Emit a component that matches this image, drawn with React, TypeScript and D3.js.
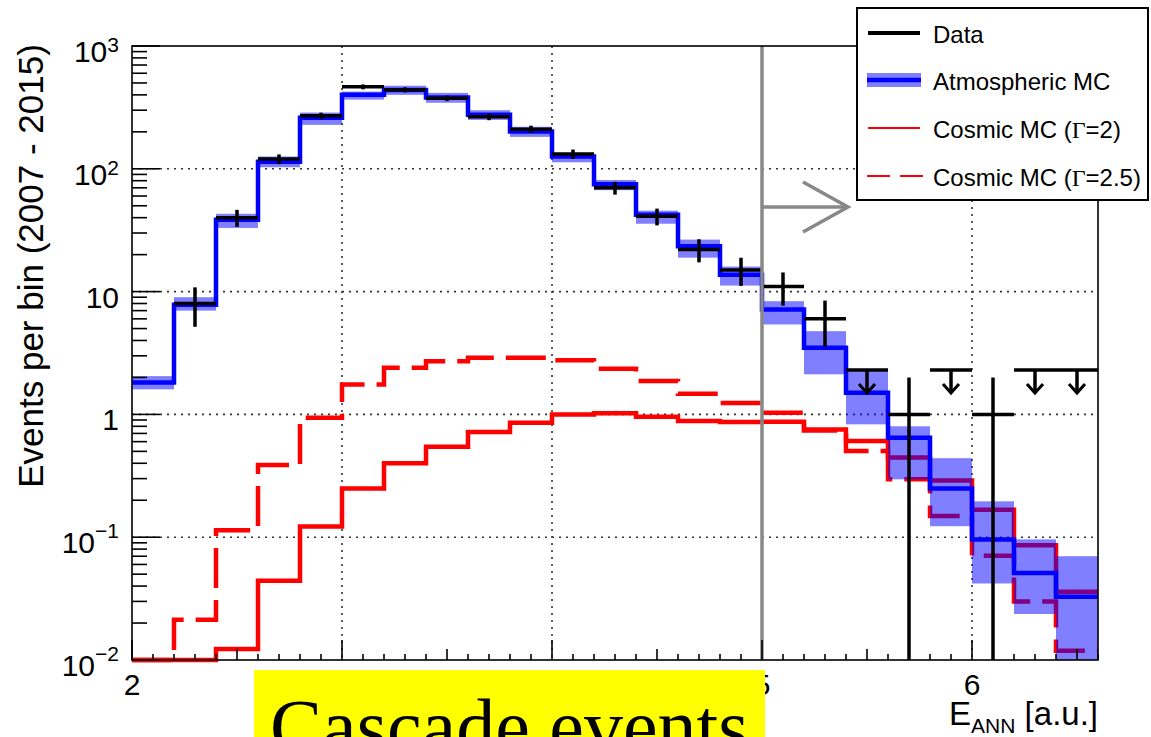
import React from 'react';
import * as d3 from 'd3';

// ---- data ----
const binLow = [2.0, 2.2, 2.4, 2.6, 2.8, 3.0, 3.2, 3.4, 3.6, 3.8, 4.0, 4.2, 4.4, 4.6, 4.8, 5.0, 5.2, 5.4, 5.6, 5.8, 6.0, 6.2, 6.4];
const binHigh = [2.2, 2.4, 2.6, 2.8, 3.0, 3.2, 3.4, 3.6, 3.8, 4.0, 4.2, 4.4, 4.6, 4.8, 5.0, 5.2, 5.4, 5.6, 5.8, 6.0, 6.2, 6.4, 6.6];

const atmMC = [1.82, 7.8, 38.5, 114, 260, 400, 439, 380, 275, 201, 126, 75, 42.3, 23.4, 13.7, 7.14, 3.49, 1.5, 0.646, 0.249, 0.096, 0.051, 0.0327];
const atmLow = [1.6, 7.0, 33, 103, 228, 366, 400, 345, 250, 182, 113, 67, 35.7, 18.9, 11.2, 5.4, 2.12, 0.83, 0.296, 0.123, 0.042, 0.0237, 0.008];
const atmHigh = [2.05, 9.0, 43, 126, 287, 425, 475, 415, 300, 220, 134, 81, 45.6, 26.5, 16.0, 8.35, 4.76, 2.32, 0.8, 0.44, 0.196, 0.096, 0.07];

const dataCounts: (number | null)[] = [null, 8, 40, 120, 270, 465, 440, 375, 265, 210, 132, 70, 41, 22, 15, 11, 6, null, 1, null, 1, null, null];
const dataUpperLimits: (number | null)[] = [null, null, null, null, null, null, null, null, null, null, null, null, null, null, null, null, null, 2.3, null, 2.3, null, 2.3, 2.3];

const cosmicG2 = [0.006, 0.008, 0.0123, 0.0441, 0.122, 0.249, 0.4, 0.546, 0.718, 0.856, 1.0, 1.02, 0.957, 0.882, 0.866, 0.87, 0.755, 0.607, 0.445, 0.29, 0.167, 0.086, 0.0359];
const cosmicG25 = [0.005, 0.0213, 0.114, 0.387, 0.94, 1.75, 2.4, 2.71, 2.89, 2.89, 2.76, 2.35, 1.87, 1.47, 1.24, 1.03, 0.74, 0.503, 0.296, 0.149, 0.0705, 0.03, 0.0119];

// labels 3 and 4 are hidden behind the yellow box in the reference
const xTickLabels = [2, 5, 6];
const yTickValues = [0.01, 0.1, 1, 10, 100, 1000];
const yTickBase = ['10', '10', '1', '10', '10', '10'];
const yTickExp = ['\u22122', '\u22121', '', '', '2', '3'];

const legendLabels = ['Data', 'Atmospheric MC', 'Cosmic MC (', 'Cosmic MC ('];
const legendGamma = ['', '', '2', '2.5'];

const cutValue = 5;

const SANS = '"Liberation Sans", Arial, Helvetica, sans-serif';
const SERIF = '"Liberation Serif", "Times New Roman", serif';

export default function App() {
  const W = 1151, H = 737;
  const L = 132, R = 1098, T = 46, B = 660;
  const x = d3.scaleLinear().domain([2, 6.6]).range([L, R]);
  const y = d3.scaleLog().domain([0.01, 1000]).range([B, T]).clamp(true);

  const stepPath = (vals: number[]) => {
    const pts: [number, number][] = vals.map((v, i) => [binLow[i], v] as [number, number]);
    pts.push([binHigh[binHigh.length - 1], vals[vals.length - 1]]);
    return d3.line<[number, number]>().x(d => x(d[0])).y(d => y(d[1])).curve(d3.curveStepAfter)(pts) || '';
  };

  const xMinor = x.ticks(46);
  const yMinor = y.ticks();

  const gridX = [3, 4, 6];
  const gridY = [0.1, 1, 10, 100];

  const blue = '#0000ff';
  const band = 'rgba(0,0,255,0.5)';
  const red = '#ff0000';

  const legY = [33, 80, 128, 176];

  return (
    <svg width={W} height={H} style={{ position: 'absolute', left: 0, top: 0 }} fontFamily={SANS}>
      <defs>
        <clipPath id="plotClip"><rect x={L} y={T} width={R - L} height={B - T} /></clipPath>
        <clipPath id="lineClip"><rect x={L - 3} y={T - 3} width={R - L + 6} height={B - T + 6} /></clipPath>
      </defs>
      <rect x={0} y={0} width={W} height={H} fill="#fff" />

      {/* grid */}
      <g stroke="#333" strokeWidth={1.6} strokeDasharray="2,5">
        {gridX.map(v => <line key={'gx' + v} x1={x(v)} x2={x(v)} y1={T} y2={B} />)}
        {gridY.map(v => <line key={'gy' + v} x1={L} x2={R} y1={y(v)} y2={y(v)} />)}
      </g>

      {/* cosmic MC */}
      <g clipPath="url(#lineClip)" fill="none">
        <path d={stepPath(cosmicG2)} stroke={red} strokeWidth={4.5} />
        <path d={stepPath(cosmicG25)} stroke={red} strokeWidth={4.5} strokeDasharray="40,12" />
      </g>

      {/* atmospheric band */}
      <g clipPath="url(#plotClip)">
        {atmMC.map((_, i) => (
          <rect key={'b' + i} x={x(binLow[i])} width={x(binHigh[i]) - x(binLow[i])}
            y={y(atmHigh[i])} height={y(atmLow[i]) - y(atmHigh[i])} fill={band} />
        ))}
      </g>
      <path d={stepPath(atmMC)} fill="none" stroke={blue} strokeWidth={4.5} clipPath="url(#lineClip)" />

      {/* data */}
      <g stroke="#000" strokeWidth={3.5} fill="none">
        {dataCounts.map((n, i) => {
          if (n == null) return null;
          const cx = x((binLow[i] + binHigh[i]) / 2);
          const e = Math.sqrt(n);
          return (
            <g key={'d' + i}>
              <line x1={x(binLow[i])} x2={x(binHigh[i])} y1={y(n)} y2={y(n)} />
              <line x1={cx} x2={cx} y1={y(n + e)} y2={n - e > 0 ? y(n - e) : B} />
            </g>
          );
        })}
        {dataUpperLimits.map((u, i) => {
          if (u == null) return null;
          const cx = x((binLow[i] + binHigh[i]) / 2);
          const yy = y(u);
          const tip = yy + 23;
          return (
            <g key={'u' + i}>
              <line x1={x(binLow[i])} x2={x(binHigh[i])} y1={yy} y2={yy} />
              <line x1={cx} x2={cx} y1={yy} y2={tip} />
              <polyline points={`${cx - 8},${tip - 9} ${cx},${tip} ${cx + 8},${tip - 9}`} strokeWidth={3} />
            </g>
          );
        })}
      </g>

      {/* cut line + arrow */}
      <g stroke="#888" strokeWidth={3.5} fill="none">
        <line x1={x(cutValue)} x2={x(cutValue)} y1={T} y2={B} />
        <line x1={x(cutValue)} x2={848} y1={207} y2={207} />
        <polyline points={`803,182 848,207 803,232`} />
      </g>

      {/* frame */}
      <rect x={L} y={T} width={R - L} height={B - T} fill="none" stroke="#000" strokeWidth={1.6} />

      {/* ticks */}
      <g stroke="#000" strokeWidth={1.6}>
        {xMinor.map((v, i) => {
          const r = Math.round(v * 10);
          const len = r % 10 === 0 ? 20 : r % 5 === 0 ? 11 : 6;
          return <line key={'xt' + i} x1={x(v)} x2={x(v)} y1={B} y2={B - len} />;
        })}
        {yMinor.map((v, i) => {
          const lg = Math.log10(v);
          const major = Math.abs(lg - Math.round(lg)) < 1e-6;
          return <line key={'yt' + i} x1={L} x2={L + (major ? 28 : 15)} y1={y(v)} y2={y(v)} />;
        })}
      </g>

      {/* y tick labels */}
      <g fontSize={30} fill="#000" textAnchor="end">
        {yTickValues.map((v, i) => (
          <text key={'yl' + i} x={119} y={y(v) + 16}>
            {yTickBase[i]}
            {yTickExp[i] && (
              <tspan fontSize={21} dy={yTickExp[i].startsWith('\u2212') ? -15 : -10}>{yTickExp[i]}</tspan>
            )}
          </text>
        ))}
      </g>

      {/* x tick labels */}
      <g fontSize={30} fill="#000" textAnchor="middle">
        {xTickLabels.map(v => (
          <text key={'xl' + v} x={x(v)} y={695}>{v}</text>
        ))}
      </g>

      {/* axis titles */}
      <text transform={`translate(43,266) rotate(-90)`} textAnchor="middle" fontSize={35} fill="#000">
        Events per bin (2007 - 2015)
      </text>
      <text x={R} y={725} textAnchor="end" fontSize={33} fill="#000">
        E<tspan fontSize={21} dy={8}>ANN</tspan><tspan dy={-8}> [a.u.]</tspan>
      </text>

      {/* legend */}
      <g>
        <rect x={857} y={8} width={291} height={192} fill="#fff" stroke="#000" strokeWidth={2} />
        <line x1={868} x2={920} y1={legY[0]} y2={legY[0]} stroke="#000" strokeWidth={4} />
        <rect x={867} y={legY[1] - 7} width={54} height={14} fill={band} />
        <line x1={867} x2={921} y1={legY[1]} y2={legY[1]} stroke={blue} strokeWidth={4.5} />
        <line x1={868} x2={920} y1={legY[2]} y2={legY[2]} stroke={red} strokeWidth={2} />
        <line x1={867} x2={923} y1={legY[3]} y2={legY[3]} stroke={red} strokeWidth={2} strokeDasharray="23,10" />
        <g fontSize={24} fill="#000">
          {legendLabels.map((t, i) => (
            <text key={'lg' + i} x={933} y={legY[i] + 10}>
              {t}
              {legendGamma[i] && (
                <>
                  <tspan fontFamily={SERIF}>Γ</tspan>={legendGamma[i]})
                </>
              )}
            </text>
          ))}
        </g>
      </g>

      {/* yellow label box */}
      <rect x={254} y={670} width={511} height={80} fill="#ffff00" />
      <text x={270} y={753} fontFamily={SERIF} fontSize={78} fill="#000">Cascade events</text>
    </svg>
  );
}
